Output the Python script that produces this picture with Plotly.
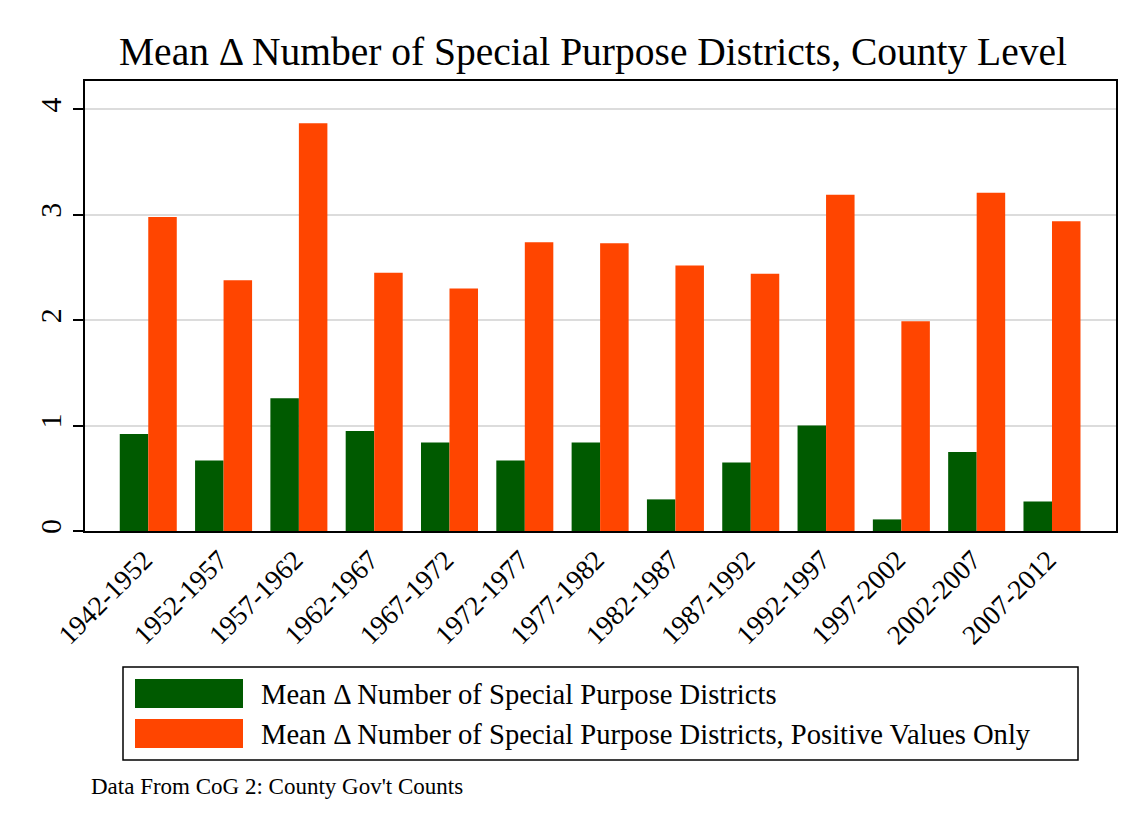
import plotly.graph_objects as go

periods = ["1942-1952", "1952-1957", "1957-1962", "1962-1967", "1967-1972", "1972-1977",
           "1977-1982", "1982-1987", "1987-1992", "1992-1997", "1997-2002", "2002-2007", "2007-2012"]
mean_all = [0.92, 0.67, 1.26, 0.95, 0.84, 0.67, 0.84, 0.30, 0.65, 1.00, 0.11, 0.75, 0.28]
mean_pos = [2.98, 2.38, 3.87, 2.45, 2.30, 2.74, 2.73, 2.52, 2.44, 3.19, 1.99, 3.21, 2.94]
series_names = ["Mean \u0394 Number of Special Purpose Districts",
                "Mean \u0394 Number of Special Purpose Districts, Positive Values Only"]
colors = ["#005A00", "#FF4500"]
title_text = "Mean \u0394 Number of Special Purpose Districts, County Level"
note_text = "Data From CoG 2: County Gov't Counts"

FONT = "Liberation Serif"
OFF = 8  # page body margin
W, H = 1146 - OFF, 833 - OFF
L, T = 85 - OFF, 81 - OFF
R, B = 1146 - 1116, 833 - 531
pw, ph = W - L - R, H - T - B

def px_x(x):
    return (x - OFF - L) / pw

def px_y(y):
    return (H - B - (y - OFF)) / ph

fig = go.Figure()
for name, vals, c in zip(series_names, [mean_all, mean_pos], colors):
    fig.add_trace(go.Bar(x=list(range(len(periods))), y=vals, name=name,
                         marker=dict(color=c, line=dict(width=0)), showlegend=False))

fig.update_layout(
    width=W, height=H,
    margin=dict(l=L, r=R, t=T, b=B, autoexpand=False),
    paper_bgcolor="white", plot_bgcolor="white",
    barmode="group", bargap=0.243, bargroupgap=0,
    font=dict(family=FONT, color="black"),
    xaxis=dict(range=[-0.84, 12.85], tickmode="array", tickvals=list(range(len(periods))),
               ticktext=periods, tickangle=-45, tickfont=dict(size=27.5, family=FONT),
               ticklabelshift=-4,
               showline=True, mirror=True, linecolor="black", linewidth=1.5,
               showgrid=False, ticks="", zeroline=False),
    yaxis=dict(range=[0, 4.27], tickvals=[0, 1, 2, 3, 4], tickangle=-90,
               tickfont=dict(size=30, family=FONT),
               showline=True, mirror=True, linecolor="black", linewidth=1.5,
               showgrid=True, gridcolor="#DCDCDC", gridwidth=2,
               ticks="outside", ticklen=10, tickwidth=1.5, tickcolor="black", zeroline=False),
)

# title
fig.add_annotation(text=title_text, xref="paper", yref="paper", x=px_x(593), y=px_y(52),
                   xanchor="center", yanchor="middle", showarrow=False,
                   font=dict(size=39.5, family=FONT, color="black"))

# legend box
fig.add_shape(type="rect", xref="paper", yref="paper", x0=px_x(123), x1=px_x(1078),
              y0=px_y(667), y1=px_y(760), line=dict(color="black", width=1.5), fillcolor="white")
for i, (name, c) in enumerate(zip(series_names, colors)):
    y0 = 679 + i * 40
    fig.add_shape(type="rect", xref="paper", yref="paper", x0=px_x(135), x1=px_x(243),
                  y0=px_y(y0), y1=px_y(y0 + 29), line=dict(width=0), fillcolor=c)
    fig.add_annotation(text=name, xref="paper", yref="paper", x=px_x(259), y=px_y(y0 + 15),
                       xanchor="left", yanchor="middle", showarrow=False,
                       font=dict(size=28.6, family=FONT, color="black"))

# note
fig.add_annotation(text=note_text, xref="paper", yref="paper", x=px_x(89), y=px_y(786),
                   xanchor="left", yanchor="middle", showarrow=False,
                   font=dict(size=23, family=FONT, color="black"))

fig.write_html("out.html")
